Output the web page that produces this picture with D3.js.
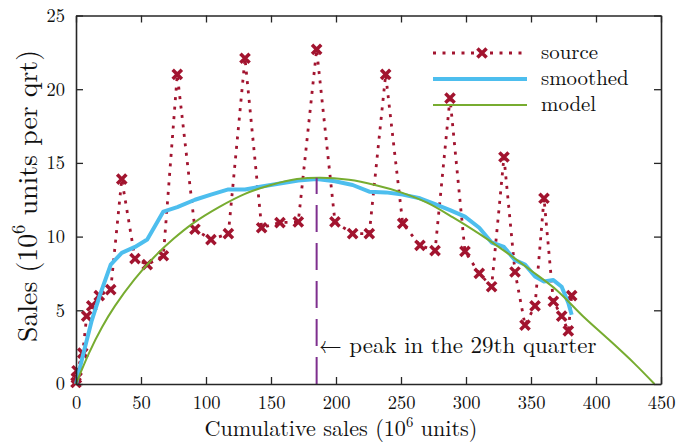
<!DOCTYPE html>
<html>
<head>
<meta charset="utf-8">
<script src="https://cdn.jsdelivr.net/npm/d3@7"></script>
<style>
  html, body { margin: 0; padding: 0; background: #fff; }
  svg { display: block; }
</style>
</head>
<body>
<svg id="chart" width="678" height="446"></svg>
<script>
// ---------- data ----------
const sourceX = [0, 0.3, 0.8, 5.2, 8.2, 12.1, 17.9, 26.7, 35.2, 45.4, 54.8, 67.2, 77.9, 91.5, 103.8, 117.2, 130.0, 142.8, 156.9, 171.0, 185.1, 199.2, 212.8, 225.6, 238.2, 251.3, 264.6, 276.2, 287.7, 299.2, 310.2, 319.7, 329.2, 337.7, 345.4, 353.1, 360.0, 367.2, 373.6, 378.7, 381.3];
const sourceY = [0.1, 0.4, 0.9, 2.1, 4.6, 5.3, 6.0, 6.4, 13.9, 8.5, 8.1, 8.7, 21.0, 10.5, 9.8, 10.2, 22.1, 10.6, 10.95, 11.0, 22.7, 11.0, 10.2, 10.2, 21.0, 10.9, 9.4, 9.05, 19.4, 9.0, 7.5, 6.6, 15.4, 7.6, 4.0, 5.3, 12.6, 5.6, 4.6, 3.6, 6.0];

const smoothX = [0, 5.2, 12.1, 17.9, 26.7, 35.2, 45.4, 54.8, 67.2, 77.9, 91.5, 103.8, 117.2, 130.0, 142.8, 156.9, 171.0, 185.1, 199.2, 212.8, 225.6, 238.2, 251.3, 264.6, 276.2, 287.7, 299.2, 310.2, 319.7, 329.2, 337.7, 345.4, 353.1, 360.0, 367.2, 373.6, 378.7, 381.3];
const smoothY = [0, 1.9, 4.3, 5.9, 8.1, 8.9, 9.3, 9.8, 11.7, 12.0, 12.5, 12.85, 13.2, 13.2, 13.4, 13.6, 13.8, 13.9, 13.75, 13.5, 13.05, 13.0, 12.85, 12.6, 12.2, 11.8, 11.35, 10.6, 9.6, 9.3, 8.4, 8.1, 7.3, 6.95, 7.05, 6.6, 5.5, 4.7];

const modelX = [0, 10, 20, 30, 45, 60, 75, 90, 110, 130, 150, 170, 188, 210, 230, 250, 270, 290, 310, 330, 350, 370, 390, 410, 430, 445];
const modelY = [0, 2.1, 3.85, 5.3, 7.1, 8.6, 9.85, 10.9, 12.0, 12.9, 13.5, 13.9, 14.0, 13.85, 13.5, 13.0, 12.3, 11.3, 10.2, 9.0, 7.7, 6.35, 4.6, 3.0, 1.35, 0];

const peakX = [185.1, 185.1];
const peakY = [0, 14.0];

const xTicks = [0, 50, 100, 150, 200, 250, 300, 350, 400, 450];
const yTicks = [0, 5, 10, 15, 20, 25];
const legendLabels = ["source", "smoothed", "model"];
const annotation = "\u2190 peak in the 29th quarter";

// ---------- styles ----------
const FONT = '"Latin Modern Roman", "CMU Serif", "Liberation Serif", serif';
const C_SRC = "#A2142F", C_SMO = "#4DBEEE", C_MOD = "#77AC30", C_PEAK = "#7E2F8E", C_AX = "#262626", C_TXT = "#111";

const svg = d3.select("#chart");
const L = 76, R = 661, T = 15.5, B = 384;
const x = d3.scaleLinear().domain([0, 450]).range([L, R]);
const y = d3.scaleLinear().domain([0, 25]).range([B, T]);

const line = d3.line().x(d => x(d[0])).y(d => y(d[1]));
const srcPts = sourceX.map((v, i) => [v, sourceY[i]]);
const smoPts = smoothX.map((v, i) => [v, smoothY[i]]);
const modPts = modelX.map((v, i) => [v, modelY[i]]);
const peakPts = peakX.map((v, i) => [v, peakY[i]]);

function styleText(sel, size) {
  return sel.style("font-family", FONT).attr("font-size", size).attr("fill", C_TXT);
}
// scale a text's font-size so its rendered width matches the reference width
function fitWidth(sel, target) {
  const fs0 = +sel.attr("font-size");
  const w = sel.node().getComputedTextLength();
  if (w > 0) {
    const k = target / w;
    sel.attr("font-size", fs0 * k);
    sel.selectAll("tspan").each(function () {
      const t = d3.select(this);
      if (t.attr("font-size")) t.attr("font-size", +t.attr("font-size") * k);
      if (t.attr("dy")) t.attr("dy", +t.attr("dy") * k);
    });
  }
}

// source dotted
svg.append("path").attr("d", line(srcPts)).attr("fill", "none")
  .attr("stroke", C_SRC).attr("stroke-width", 2.8).attr("stroke-dasharray", "3,6.5");

function xMarker(g, cx, cy, s) {
  g.append("path").attr("d", `M${cx - s},${cy - s}L${cx + s},${cy + s}M${cx - s},${cy + s}L${cx + s},${cy - s}`)
    .attr("stroke", C_SRC).attr("stroke-width", 3.5).attr("fill", "none");
}
const mk = svg.append("g");
srcPts.forEach(p => xMarker(mk, x(p[0]), y(p[1]), 4.6));

// smoothed
svg.append("path").attr("d", line(smoPts)).attr("fill", "none")
  .attr("stroke", C_SMO).attr("stroke-width", 4).attr("stroke-linejoin", "round");

// model
svg.append("path").attr("d", d3.line().x(d => x(d[0])).y(d => y(d[1])).curve(d3.curveCatmullRom)(modPts))
  .attr("fill", "none").attr("stroke", C_MOD).attr("stroke-width", 2);

// peak dashed
svg.append("path").attr("d", line(peakPts)).attr("fill", "none")
  .attr("stroke", C_PEAK).attr("stroke-width", 2).attr("stroke-dasharray", "27,11");

// annotation
const ann = styleText(svg.append("text").attr("x", x(peakX[0]) + 2).attr("y", 353), 20).text(annotation);
fitWidth(ann, 278);

// ---------- axes ----------
const fs = 18.5;
const gB = svg.append("g").attr("transform", `translate(0,${B})`)
  .call(d3.axisBottom(x).tickValues(xTicks).tickSizeInner(-7).tickSizeOuter(0).tickPadding(12));
const gT = svg.append("g").attr("transform", `translate(0,${T})`)
  .call(d3.axisTop(x).tickValues(xTicks).tickSizeInner(-7).tickSizeOuter(0).tickFormat(""));
const gL = svg.append("g").attr("transform", `translate(${L},0)`)
  .call(d3.axisLeft(y).tickValues(yTicks).tickSizeInner(-7).tickSizeOuter(0).tickPadding(11));
const gR = svg.append("g").attr("transform", `translate(${R},0)`)
  .call(d3.axisRight(y).tickValues(yTicks).tickSizeInner(-7).tickSizeOuter(0).tickFormat(""));
[gB, gT, gL, gR].forEach(g => {
  g.selectAll(".domain").attr("stroke", C_AX).attr("stroke-width", 1.6);
  g.selectAll(".tick line").attr("stroke", C_AX).attr("stroke-width", 1.3);
  styleText(g.selectAll(".tick text"), fs);
});

// axis titles
const xt = styleText(svg.append("text").attr("x", 341).attr("y", 436).attr("text-anchor", "middle"), 21);
xt.append("tspan").text("Cumulative sales (10");
xt.append("tspan").attr("font-size", 14).attr("dy", -9).text("6");
xt.append("tspan").attr("dy", 9).text(" units)");
fitWidth(xt, 273);

const yt = styleText(svg.append("text").attr("transform", "translate(37,196) rotate(-90)").attr("text-anchor", "middle"), 21);
yt.append("tspan").text("Sales (10");
yt.append("tspan").attr("font-size", 14).attr("dy", -9).text("6");
yt.append("tspan").attr("dy", 9).text(" units per qrt)");
fitWidth(yt, 292);

// ---------- legend ----------
const lg = svg.append("g");
const ly = [53, 79, 105];
const lx0 = 433, lx1 = 527;
lg.append("line").attr("x1", lx0).attr("x2", lx1).attr("y1", ly[0]).attr("y2", ly[0])
  .attr("stroke", C_SRC).attr("stroke-width", 2.8).attr("stroke-dasharray", "3,6.5");
xMarker(lg, (lx0 + lx1) / 2 + 2, ly[0], 4.6);
lg.append("line").attr("x1", lx0).attr("x2", lx1).attr("y1", ly[1]).attr("y2", ly[1])
  .attr("stroke", C_SMO).attr("stroke-width", 4);
lg.append("line").attr("x1", lx0).attr("x2", lx1).attr("y1", ly[2]).attr("y2", ly[2])
  .attr("stroke", C_MOD).attr("stroke-width", 2);
const src0 = styleText(lg.append("text").attr("x", 541).attr("y", ly[0]).attr("dy", "0.3em"), 20).text(legendLabels[0]);
fitWidth(src0, 57);
const lfs = +src0.attr("font-size");
legendLabels.slice(1).forEach((t, i) => {
  styleText(lg.append("text").attr("x", 541).attr("y", ly[i + 1]).attr("dy", "0.3em"), lfs).text(t);
});
</script>
</body>
</html>
